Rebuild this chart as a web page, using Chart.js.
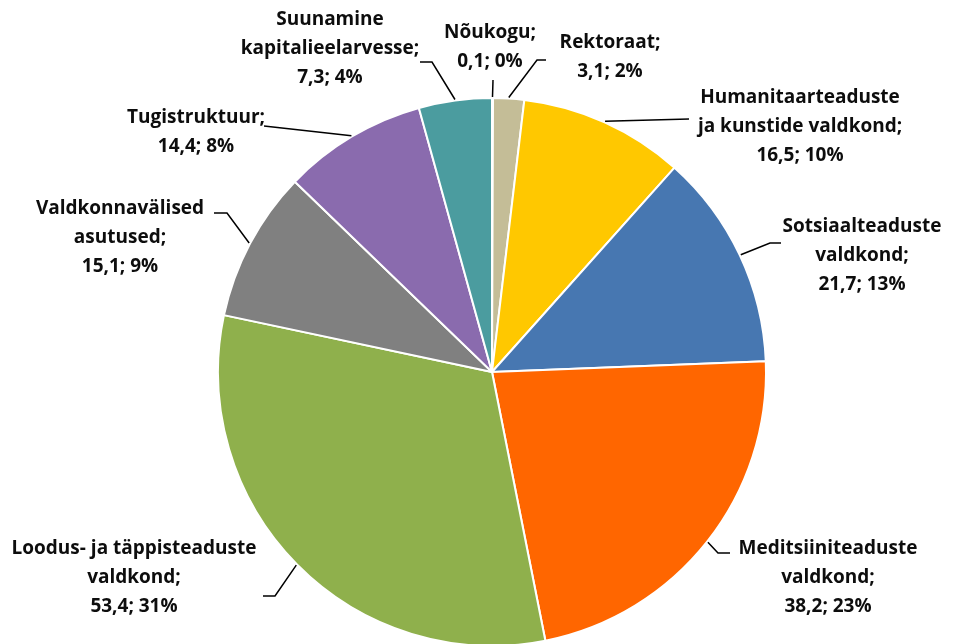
<!DOCTYPE html>
<html lang="et">
<head>
    <meta charset="UTF-8">
    <title>Eelarve jaotus</title>
    <script src="https://cdn.jsdelivr.net/npm/chart.js"></script>
    <style>
        html, body {
            margin: 0;
            padding: 0;
            background: #ffffff;
            overflow: hidden;
        }
        .chart-container {
            position: relative;
            width: 955px;
            height: 650px;
        }
    </style>
</head>
<body>
    <div class="chart-container">
        <canvas id="budgetChart" width="955" height="650"></canvas>
    </div>
    <script>
        // Data (clockwise from 12 o'clock)
        const categories = [
            'Nõukogu',
            'Rektoraat',
            'Humanitaarteaduste ja kunstide valdkond',
            'Sotsiaalteaduste valdkond',
            'Meditsiiniteaduste valdkond',
            'Loodus- ja täppisteaduste valdkond',
            'Valdkonnavälised asutused',
            'Tugistruktuur',
            'Suunamine kapitalieelarvesse'
        ];
        const values = [0.1, 3.1, 16.5, 21.7, 38.2, 53.4, 15.1, 14.4, 7.3];
        const percents = [0, 2, 10, 13, 23, 31, 9, 8, 4];
        // how each category name wraps in its label
        const nameLines = [
            ['Nõukogu;'],
            ['Rektoraat;'],
            ['Humanitaarteaduste', 'ja kunstide valdkond;'],
            ['Sotsiaalteaduste', 'valdkond;'],
            ['Meditsiiniteaduste', 'valdkond;'],
            ['Loodus- ja täppisteaduste', 'valdkond;'],
            ['Valdkonnavälised', 'asutused;'],
            ['Tugistruktuur;'],
            ['Suunamine', 'kapitalieelarvesse;']
        ];

        const colors = ['#C0504D', '#C4BD97', '#FFC800', '#4777B1', '#FF6600',
                        '#8FB04C', '#808080', '#8A6BAE', '#4B9C9F'];

        // label placement: text centre x, first line centre y, leader bend points
        const labelLayout = [
            { x: 490, y: 33, leader: [[493, 80]] },
            { x: 610, y: 43, leader: [[537, 60], [546, 60]] },
            { x: 800, y: 98, leader: [[689, 119]] },
            { x: 862, y: 227, leader: [[770, 243], [781, 243]] },
            { x: 828, y: 549, leader: [[718, 553], [730, 553]] },
            { x: 134, y: 549, leader: [[275, 596], [263, 596]] },
            { x: 120, y: 209, leader: [[227, 213], [214, 213]] },
            { x: 196, y: 118, leader: [[264, 126]] },
            { x: 330, y: 20, leader: [[432, 62], [420, 62]] }
        ];
        const lineHeight = 29;

        const labelPlugin = {
            id: 'pieLabels',
            afterDraw(chart) {
                const ctx = chart.ctx;
                const arcs = chart.getDatasetMeta(0).data;
                ctx.save();
                ctx.strokeStyle = '#000000';
                ctx.lineWidth = 1.5;
                ctx.fillStyle = '#0d0d0d';
                ctx.font = 'bold 19px "Open Sans", sans-serif';
                ctx.textAlign = 'center';
                ctx.textBaseline = 'middle';
                arcs.forEach((arc, i) => {
                    const mid = (arc.startAngle + arc.endAngle) / 2;
                    const r = arc.outerRadius + 1;
                    const sx = arc.x + Math.cos(mid) * r;
                    const sy = arc.y + Math.sin(mid) * r;
                    const lay = labelLayout[i];
                    ctx.beginPath();
                    ctx.moveTo(sx, sy);
                    lay.leader.forEach(p => ctx.lineTo(p[0], p[1]));
                    ctx.stroke();

                    const lines = nameLines[i].concat([
                        values[i].toFixed(1).replace('.', ',') + '; ' + percents[i] + '%'
                    ]);
                    lines.forEach((t, k) => {
                        ctx.fillText(t, lay.x, lay.y + k * lineHeight);
                    });
                });
                ctx.restore();
            }
        };

        new Chart(document.getElementById('budgetChart'), {
            type: 'pie',
            data: {
                labels: categories,
                datasets: [{
                    data: values,
                    backgroundColor: colors,
                    borderColor: '#ffffff',
                    borderWidth: 2
                }]
            },
            options: {
                responsive: false,
                animation: false,
                layout: {
                    padding: { left: 217, right: 188, top: 97, bottom: 3 }
                },
                plugins: {
                    legend: { display: false },
                    tooltip: { enabled: false }
                }
            },
            plugins: [labelPlugin]
        });
    </script>
</body>
</html>
